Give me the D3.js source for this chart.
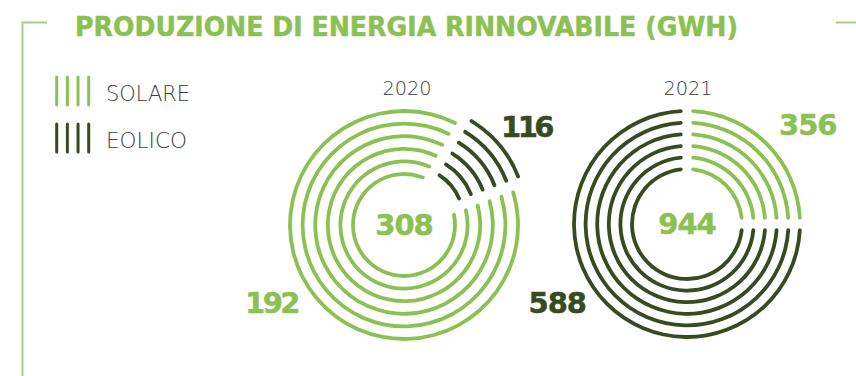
<!DOCTYPE html>
<html><head><meta charset="utf-8">
<script src="https://cdn.jsdelivr.net/npm/d3@7"></script>
<style>body{margin:0;background:#fff}</style>
</head><body>
<svg id="c" width="856" height="376"></svg>
<script>
// ---------- data ----------
const title = "PRODUZIONE DI ENERGIA RINNOVABILE (GWH)";
const years = ["2020", "2021"];
const totals = [308, 944];
const solare = [192, 356];
const eolico = [116, 588];
const seriesNames = ["SOLARE", "EOLICO"];
// share of each circle as drawn in the picture (stylised rings)
const drawnShareSolare = [0.892, 0.25];
const drawnShareEolico = [0.108, 0.75];
const rings = [0, 1, 2, 3, 4, 5];

// ---------- style / layout ----------
const W = 856, H = 376;
const LIGHT = "#8bc152", DARK = "#384a20", TEXT = "#3a3a3a", FRAME = "#a6cf7b";
const SW = 3.8;
const NUMFONT = "'DejaVu Sans', sans-serif";
const charts = [
  { cx: 404, cy: 225, rIn: 51, rOut: 114, start: 69.4, halfGap: 6, explodeIndex: 1, explode: 10.5,
    yearX: 407, totalDy: 10,
    lab: [{ x: 298, y: 313, anchor: "end", ls: -2.5 }, { x: 501, y: 137, anchor: "start", ls: -3.5 }] },
  { cx: 687, cy: 224, rIn: 55, rOut: 113, start: 0, halfGap: 4.3, explodeIndex: -1, explode: 0,
    yearX: 688, totalDy: 10,
    lab: [{ x: 779, y: 135, anchor: "start", ls: -1 }, { x: 586, y: 313, anchor: "end", ls: -1 }] }
];
const colorOf = d3.scaleOrdinal().domain(seriesNames).range([LIGHT, DARK]);

const svg = d3.select("#c");
const rad = d => d * Math.PI / 180;

// frame
svg.append("path").attr("d", "M47,22.5H22.5V376").attr("fill", "none").attr("stroke", FRAME).attr("stroke-width", 2);
svg.append("path").attr("d", "M836,22.5H856").attr("fill", "none").attr("stroke", FRAME).attr("stroke-width", 2);

// title
svg.append("text").attr("x", 75).attr("y", 36).text(title)
  .attr("font-family", NUMFONT).attr("font-weight", 700).attr("font-size", 26.5)
  .attr("fill", LIGHT).attr("stroke", LIGHT).attr("stroke-width", 0.5)
  .attr("textLength", 663).attr("lengthAdjust", "spacingAndGlyphs");

// legend
const legend = svg.append("g");
const barX = d3.scaleLinear().domain([0, 3]).range([56.7, 88.7]);
seriesNames.forEach((s, k) => {
  const y0 = 77 + k * 47;
  legend.selectAll(null).data(d3.range(4)).join("line")
    .attr("x1", d => barX(d)).attr("x2", d => barX(d)).attr("y1", y0).attr("y2", y0 + 28)
    .attr("stroke", colorOf(s)).attr("stroke-width", 3).attr("stroke-linecap", "round");
  legend.append("text").attr("x", 106).attr("y", y0 + 23.5).text(s)
    .attr("font-family", "'DejaVu Sans', sans-serif").attr("font-weight", 300).attr("font-size", 21)
    .attr("fill", TEXT).attr("textLength", k === 0 ? 84 : 81).attr("lengthAdjust", "spacingAndGlyphs");
});

// donuts
charts.forEach((L, i) => {
  const g = svg.append("g").attr("transform", `translate(${L.cx},${L.cy})`);
  const pie = d3.pie().sort(null).value(d => d.share)
    .startAngle(rad(L.start)).endAngle(rad(L.start) + 2 * Math.PI);
  const segs = pie([
    { key: seriesNames[0], share: drawnShareSolare[i], value: solare[i] },
    { key: seriesNames[1], share: drawnShareEolico[i], value: eolico[i] }
  ]);
  const rScale = d3.scaleLinear().domain([0, rings.length - 1]).range([L.rIn, L.rOut]);
  segs.forEach((s, k) => {
    const ex = k === L.explodeIndex ? L.explode : 0;
    const mid = (s.startAngle + s.endAngle) / 2;
    const sg = g.append("g").attr("transform", `translate(${ex * Math.sin(mid)},${-ex * Math.cos(mid)})`);
    const pad = ex > 0 ? 0 : 2 * L.halfGap / 100;
    sg.selectAll("path").data(rings).join("path")
      .attr("d", r => d3.arc().innerRadius(rScale(r) - SW / 2).outerRadius(rScale(r) + SW / 2)
        .cornerRadius(SW / 2).padRadius(100).padAngle(pad)(s))
      .attr("fill", colorOf(s.data.key));
    // value label
    const lb = L.lab[k];
    svg.append("text").attr("x", lb.x).attr("y", lb.y).attr("text-anchor", lb.anchor)
      .text(s.data.value)
      .attr("font-family", NUMFONT).attr("font-weight", 700).attr("font-size", 29)
      .attr("letter-spacing", lb.ls)
      .attr("fill", colorOf(s.data.key)).attr("stroke", colorOf(s.data.key)).attr("stroke-width", 0.5);
  });
  // total
  g.append("text").attr("x", 0).attr("y", L.totalDy).attr("text-anchor", "middle").text(totals[i])
    .attr("font-family", NUMFONT).attr("font-weight", 700).attr("font-size", 29)
    .attr("letter-spacing", -1)
    .attr("fill", LIGHT).attr("stroke", LIGHT).attr("stroke-width", 0.5);
  // year
  svg.append("text").attr("x", L.yearX).attr("y", 95).attr("text-anchor", "middle").text(years[i])
    .attr("font-family", "'DejaVu Sans', sans-serif").attr("font-weight", 300).attr("font-size", 19)
    .attr("fill", TEXT).attr("textLength", 49).attr("lengthAdjust", "spacingAndGlyphs");
});
</script>
</body></html>
